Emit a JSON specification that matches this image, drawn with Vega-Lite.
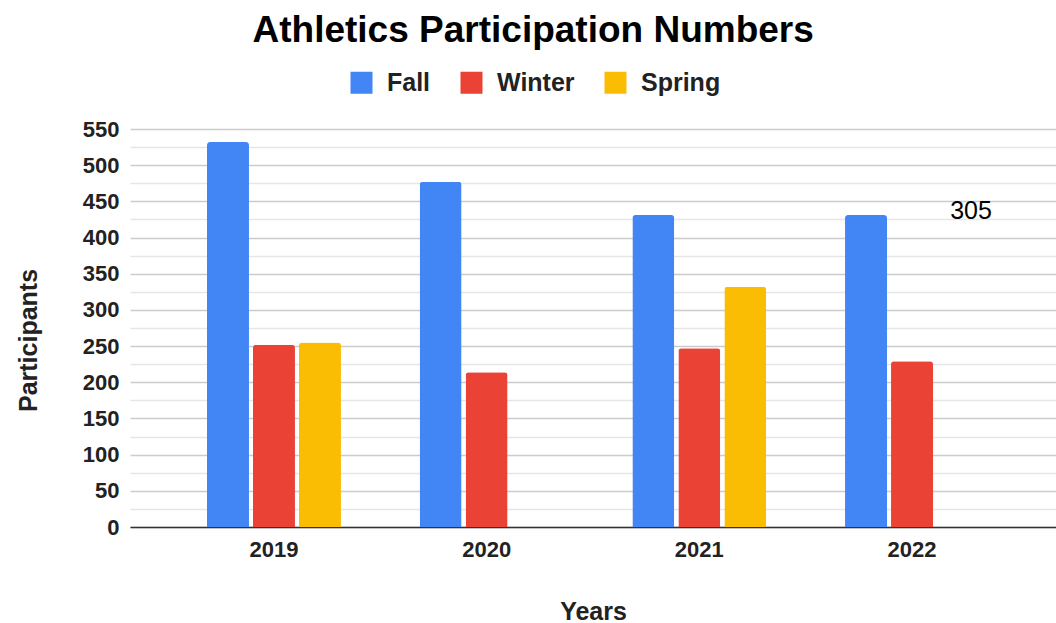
{
  "$schema": "https://vega.github.io/schema/vega-lite/v6.json",
  "autosize": {"type": "none"},
  "padding": {"left": 130, "top": 129, "right": 0, "bottom": 96},
  "width": 926,
  "height": 398,
  "background": "white",
  "config": {
    "font": "Liberation Sans",
    "view": {"stroke": null}
  },
  "title": {
    "text": "Athletics Participation Numbers",
    "fontSize": 37,
    "fontWeight": "bold",
    "color": "#000000",
    "anchor": "middle",
    "frame": "bounds",
    "offset": 20,
    "dx": -3
  },
  "datasets": {
    "main": [
      {"year": "2019", "season": "Fall", "participants": 532},
      {"year": "2019", "season": "Winter", "participants": 252},
      {"year": "2019", "season": "Spring", "participants": 255},
      {"year": "2020", "season": "Fall", "participants": 477},
      {"year": "2020", "season": "Winter", "participants": 214},
      {"year": "2021", "season": "Fall", "participants": 431},
      {"year": "2021", "season": "Winter", "participants": 247},
      {"year": "2021", "season": "Spring", "participants": 332},
      {"year": "2022", "season": "Fall", "participants": 431},
      {"year": "2022", "season": "Winter", "participants": 229}
    ],
    "note": [
      {"year": "2022", "season": "Spring", "participants": 437, "label": "305"}
    ]
  },
  "encoding": {
    "x": {
      "field": "year",
      "type": "nominal",
      "scale": {"domain": ["2019", "2020", "2021", "2022"], "paddingInner": 0.37, "paddingOuter": 0.362},
      "axis": {
        "title": "Years",
        "labelAngle": 0,
        "labelFontSize": 22,
        "labelFontWeight": "bold",
        "labelColor": "#222222",
        "labelPadding": 12,
        "titleFontSize": 25,
        "titleFontWeight": "bold",
        "titleColor": "#222222",
        "titlePadding": 39,
        "ticks": false,
        "domainColor": "#333333",
        "domainWidth": 1.5,
        "grid": false
      }
    },
    "xOffset": {
      "field": "season",
      "type": "nominal",
      "scale": {"domain": ["Fall", "Winter", "Spring"], "paddingInner": 0.087, "paddingOuter": 0}
    },
    "y": {
      "field": "participants",
      "type": "quantitative",
      "scale": {"domain": [0, 550], "nice": false},
      "axis": {
        "title": "Participants",
        "values": [0, 25, 50, 75, 100, 125, 150, 175, 200, 225, 250, 275, 300, 325, 350, 375, 400, 425, 450, 475, 500, 525, 550],
        "labelExpr": "datum.value % 50 === 0 ? datum.label : ''",
        "labelOverlap": false,
        "labelFontSize": 22,
        "labelFontWeight": "bold",
        "labelColor": "#222222",
        "labelPadding": 11,
        "titleFontSize": 25,
        "titleFontWeight": "bold",
        "titleColor": "#222222",
        "titlePadding": 41,
        "titleY": 211,
        "ticks": false,
        "domain": false,
        "grid": true,
        "gridColor": {"condition": {"test": "datum.value % 50 === 0", "value": "#cccccc"}, "value": "#e6e6e6"},
        "gridWidth": 1.5
      }
    }
  },
  "layer": [
    {
      "data": {"name": "main"},
      "mark": {"type": "bar", "cornerRadiusTopLeft": 3, "cornerRadiusTopRight": 3},
      "encoding": {
        "color": {
          "field": "season",
          "type": "nominal",
          "scale": {"domain": ["Fall", "Winter", "Spring"], "range": ["#4285F4", "#EA4335", "#FBBC04"]},
          "legend": {
            "title": null,
            "orient": "none",
            "direction": "horizontal",
            "legendX": 219,
            "legendY": -59,
            "padding": 0,
            "symbolType": "square",
            "symbolSize": 484,
            "symbolStrokeWidth": 0,
            "symbolOpacity": 1,
            "labelFontSize": 25,
            "labelFontWeight": "bold",
            "labelColor": "#222222",
            "labelOffset": 13,
            "columnPadding": 28
          }
        }
      }
    },
    {
      "data": {"name": "note"},
      "mark": {"type": "text", "fontSize": 25, "color": "#000000", "baseline": "middle", "align": "center", "dx": 13},
      "encoding": {
        "text": {"field": "label"}
      }
    }
  ]
}
